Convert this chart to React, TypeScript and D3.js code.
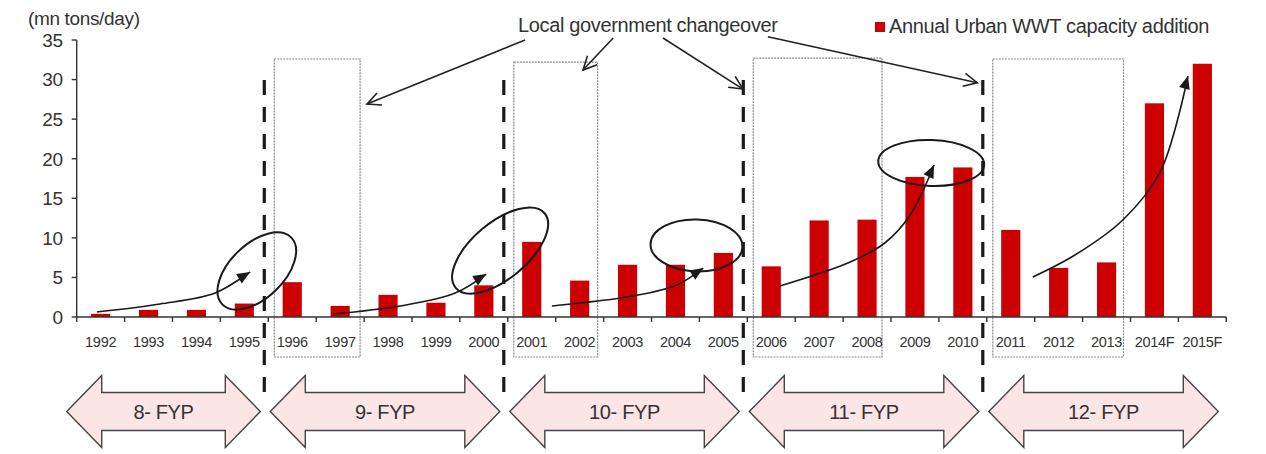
import * as d3 from 'd3';

// Annual urban WWT capacity addition (mn tons/day)
const years = ['1992', '1993', '1994', '1995', '1996', '1997', '1998', '1999', '2000', '2001', '2002', '2003',
  '2004', '2005', '2006', '2007', '2008', '2009', '2010', '2011', '2012', '2013', '2014F', '2015F'];
const capacityAdded = [0.4, 0.9, 0.9, 1.7, 4.4, 1.4, 2.8, 1.8, 4.0, 9.5, 4.6, 6.6,
  6.6, 8.1, 6.4, 12.2, 12.3, 17.7, 18.9, 11.0, 6.2, 6.9, 27.0, 32.0];
const yTicks = [0, 5, 10, 15, 20, 25, 30, 35];

// five-year plans (start/end given as category boundaries)
const planLabels = ['8- FYP', '9- FYP', '10- FYP', '11- FYP', '12- FYP'];
const planStarts = [0, 4, 9, 14, 19];
const planEnds = [4, 9, 14, 19, 24];
const changeovers = [4, 9, 14, 19];

// dotted boxes: first years of each plan
const boxStarts = [4, 9, 14, 19];
const boxEnds = [6, 11, 17, 22];
const boxTops = [32.6, 32.2, 32.7, 32.6];
const boxRightInset = [4, 6, 9, 7];

// annotation curves, as [boundary index, value]
const trendArrows: [number, number][][] = [
  [[0.42, 0.63], [1.74, 1.64], [2.89, 3.03], [3.62, 5.69]],
  [[5.35, 0.38], [6.75, 1.39], [7.9, 3.03], [8.55, 5.43]],
  [[9.92, 1.39], [11.61, 2.65], [12.53, 4.04], [13.08, 6.19]],
  [[14.68, 3.92], [16.15, 6.95], [16.87, 9.35], [17.4, 12.89], [17.9, 19.21]],
  [[19.96, 5.05], [20.84, 7.83], [21.84, 12.26], [22.62, 18.32], [23.2, 30.45]],
];
// ellipses: [index, value, rx, ry, rotation]
const circles: [number, number, number, number, number][] = [
  [3.76, 5.81, 48, 27, -44],
  [8.84, 8.4, 58, 28, -40],
  [12.94, 9.04, 46, 26, 2],
  [17.84, 19.46, 53, 23, 2],
];
// "Local government changeover" pointers: [from, to]
const pointers: [number, number][][] = [
  [[9.36, 35.0], [6.06, 26.9]],
  [[11.2, 35.25], [10.57, 31.2]],
  [[12.24, 35.25], [13.91, 28.8]],
  [[14.43, 35.4], [18.8, 29.6]],
];

const W = 1266;
const H = 454;
const X0 = 76.7;
const X1 = 1226.3;
const FONT = '"Liberation Sans", Arial, sans-serif';
const INK = '#333';

function blockArrow(xl: number, xr: number, cy: number) {
  const hh = 36, sh = 19, hl = 35;
  return `M${xl},${cy} L${xl + hl},${cy - hh} L${xl + hl},${cy - sh} L${xr - hl},${cy - sh} L${xr - hl},${cy - hh}
    L${xr},${cy} L${xr - hl},${cy + hh} L${xr - hl},${cy + sh} L${xl + hl},${cy + sh} L${xl + hl},${cy + hh} Z`;
}

export default function App() {
  const x = d3.scaleBand<string>().domain(years).range([X0, X1]).paddingInner(0.6).paddingOuter(0.3);
  const edge = d3.scaleLinear().domain([0, years.length]).range([X0, X1]);
  const y = d3.scaleLinear().domain([0, 35]).range([317, 40]);
  const pt = (p: [number, number]): [number, number] => [edge(p[0]), y(p[1])];

  const curve = d3.line().curve(d3.curveCatmullRom.alpha(0.5));

  const headFilled = (pts: [number, number][]) => {
    const [x2, y2] = pts[pts.length - 1];
    const [x1, y1] = pts[pts.length - 2];
    const a = Math.atan2(y2 - y1, x2 - x1);
    const L = 13, w = 5.5;
    const bx = x2 - L * Math.cos(a), by = y2 - L * Math.sin(a);
    return `M${x2},${y2} L${bx + w * Math.sin(a)},${by - w * Math.cos(a)} L${bx - w * Math.sin(a)},${by + w * Math.cos(a)} Z`;
  };
  const headOpen = (from: [number, number], to: [number, number]) => {
    const a = Math.atan2(to[1] - from[1], to[0] - from[0]);
    const L = 15, s = 0.45;
    const p1 = [to[0] - L * Math.cos(a - s), to[1] - L * Math.sin(a - s)];
    const p2 = [to[0] - L * Math.cos(a + s), to[1] - L * Math.sin(a + s)];
    return `M${p1[0]},${p1[1]} L${to[0]},${to[1]} L${p2[0]},${p2[1]}`;
  };

  const txt = { fontFamily: FONT, fontSize: 20, letterSpacing: '-0.35px', fill: INK } as const;

  return (
    <svg width={W} height={H} style={{ position: 'absolute', left: 0, top: 0, background: '#fff' }}>
      {/* dotted boxes */}
      {boxStarts.map((s, i) => (
        <rect key={'box' + i} x={edge(s) + 6} y={y(boxTops[i])}
          width={edge(boxEnds[i]) - boxRightInset[i] - (edge(s) + 6)}
          height={357 - y(boxTops[i])} fill="none" stroke="#888" strokeWidth={1.2} strokeDasharray="2 1" />
      ))}

      {/* bars */}
      {years.map((yr, i) => (
        <rect key={yr} x={x(yr)} y={y(capacityAdded[i])} width={x.bandwidth()}
          height={y(0) - y(capacityAdded[i])} fill="#cc0000" />
      ))}

      {/* y axis */}
      <line x1={X0} x2={X0} y1={y(0)} y2={y(35)} stroke={INK} strokeWidth={1.4} />
      {yTicks.map(t => (
        <g key={'yt' + t}>
          <line x1={X0 - 5} x2={X0} y1={y(t)} y2={y(t)} stroke={INK} strokeWidth={1.4} />
          <text x={X0 - 14} y={y(t)} dy="0.36em" textAnchor="end" {...txt} fontSize={19}>{t}</text>
        </g>
      ))}
      <text x={28} y={25} {...txt} fontSize={19}>(mn tons/day)</text>

      {/* x axis */}
      <line x1={X0} x2={X1} y1={y(0)} y2={y(0)} stroke={INK} strokeWidth={1.4} />
      {d3.range(years.length + 1).map(i => (
        <line key={'xt' + i} x1={edge(i)} x2={edge(i)} y1={y(0)} y2={y(0) + 5} stroke={INK} strokeWidth={1.4} />
      ))}
      {years.map(yr => (
        <text key={'xl' + yr} x={(x(yr) ?? 0) + x.bandwidth() / 2} y={347} textAnchor="middle"
          fontFamily={FONT} fontSize={14.5} letterSpacing="-0.3px" fill={INK}>{yr}</text>
      ))}

      {/* changeover dashed lines */}
      {changeovers.map(c => (
        <line key={'cd' + c} x1={edge(c) - 4} x2={edge(c) - 4} y1={80} y2={392}
          stroke="#1a1a1a" strokeWidth={3.2} strokeDasharray="15 12" />
      ))}

      {/* trend arrows */}
      {trendArrows.map((a, i) => {
        const pts = a.map(pt);
        return (
          <g key={'tr' + i}>
            <path d={curve(pts) ?? ''} fill="none" stroke="#1a1a1a" strokeWidth={1.6} />
            <path d={headFilled(pts)} fill="#1a1a1a" />
          </g>
        );
      })}
      {circles.map(([ix, v, rx, ry, rot], i) => (
        <ellipse key={'el' + i} cx={edge(ix)} cy={y(v)} rx={rx} ry={ry}
          transform={`rotate(${rot},${edge(ix)},${y(v)})`} fill="none" stroke="#1a1a1a" strokeWidth={2} />
      ))}

      {/* local government changeover pointers */}
      <text x={518} y={32} {...txt}>Local government changeover</text>
      {pointers.map(([f, t], i) => {
        const a = pt(f), b = pt(t);
        return (
          <g key={'pt' + i} stroke="#222" strokeWidth={1.6} fill="none">
            <line x1={a[0]} y1={a[1]} x2={b[0]} y2={b[1]} />
            <path d={headOpen(a, b)} />
          </g>
        );
      })}

      {/* legend */}
      <rect x={875} y={22} width={10} height={10} fill="#cc0000" />
      <text x={889} y={33} {...txt}>Annual Urban WWT capacity addition</text>

      {/* five-year plan arrows */}
      {planLabels.map((lab, i) => {
        const xl = i === 0 ? edge(planStarts[i]) - 10 : edge(planStarts[i]) + 2;
        const xr = edge(planEnds[i]) - 8;
        return (
          <g key={lab}>
            <path d={blockArrow(xl, xr, 411.5)} fill="#fbe6e5" stroke="#444" strokeWidth={1.4} />
            <text x={(xl + xr) / 2} y={418.5} textAnchor="middle" {...txt}>{lab}</text>
          </g>
        );
      })}
    </svg>
  );
}
